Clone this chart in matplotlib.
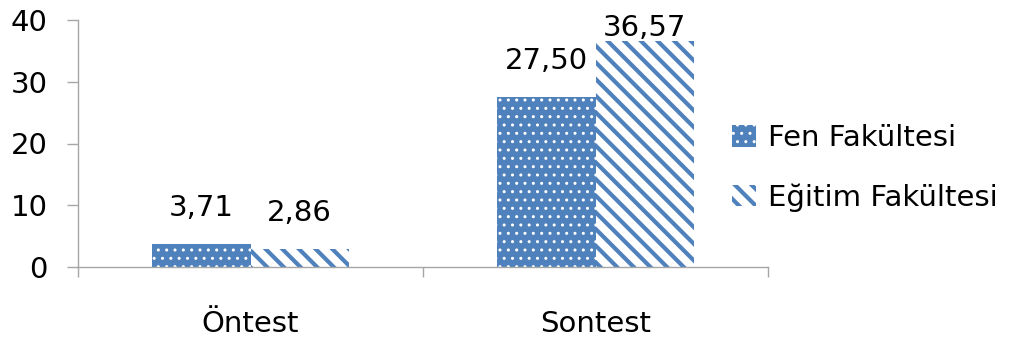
import numpy as np
import matplotlib
matplotlib.use("Agg")
import matplotlib.pyplot as plt
from matplotlib.patches import Patch

plt.rcParams['font.family'] = ['DejaVu Sans']

categories = ['Öntest', 'Sontest']
fen = [3.71, 27.50]
egitim = [2.86, 36.57]
series_names = ['Fen Fakültesi', 'Eğitim Fakültesi']
yticks = [0, 10, 20, 30, 40]

blue = '#4F81BD'
grey = '#A6A6A6'
w = 0.285
fs = 21

fig = plt.figure(figsize=(10.19, 3.4), dpi=100)
ax = fig.add_axes([78/1019, 1-267/340, 690/1019, 247/340])

x = np.arange(len(categories))


def set_hlw(p, lw):
    # hatch line width per patch
    if hasattr(p, 'set_hatch_linewidth'):
        p.set_hatch_linewidth(lw)
    else:
        p._hatch_linewidth = lw


b1 = ax.bar(x - w/2, fen, w, color=blue, edgecolor='white', linewidth=0, hatch='..')
b2 = ax.bar(x + w/2, egitim, w, color='white', edgecolor=blue, linewidth=0, hatch='\\\\')
for p in b1:
    set_hlw(p, 1.0)
for p in b2:
    set_hlw(p, 3.0)

def fmt(v):
    return ('%.2f' % v).replace('.', ',')

ax.set_xlim(-0.5, 1.5)
ax.set_ylim(0, 40)

# label centre ~36 px above bar top, kept inside the top of the plot
for bars, vals in [(b1, fen), (b2, egitim)]:
    for r, v in zip(bars, vals):
        yc = min(v + 36/6.175, 38.7)
        ax.text(r.get_x() + r.get_width()/2, yc, fmt(v), ha='center', va='center',
                fontsize=fs, clip_on=False)

ax.set_yticks(yticks)
ax.set_xticks(x)
ax.set_xticklabels(categories)
ax.set_xticks([-0.5, 0.5, 1.5], minor=True)
ax.tick_params(axis='x', which='major', length=0, labelsize=fs, pad=31)
ax.tick_params(axis='x', which='minor', length=7.5, direction='out', color=grey, width=1)
ax.tick_params(axis='y', length=8, direction='out', color=grey, width=1, labelsize=fs, pad=14)

for s in ['top', 'right']:
    ax.spines[s].set_visible(False)
for s in ['left', 'bottom']:
    ax.spines[s].set_color(grey)
    ax.spines[s].set_linewidth(1)

h1 = Patch(facecolor=blue, edgecolor='white', linewidth=0, hatch='..')
h2 = Patch(facecolor='white', edgecolor=blue, linewidth=0, hatch='\\\\')
leg = fig.legend([h1, h2], series_names, loc='center left', bbox_to_anchor=(0.718, 0.506),
                 frameon=False, fontsize=fs, handlelength=0.85, handleheight=0.75,
                 handletextpad=0.4, labelspacing=1.07, borderpad=0, borderaxespad=0)
set_hlw(leg.legend_handles[0], 1.0)
set_hlw(leg.legend_handles[1], 3.0)

fig.savefig('out.png', dpi=100)
